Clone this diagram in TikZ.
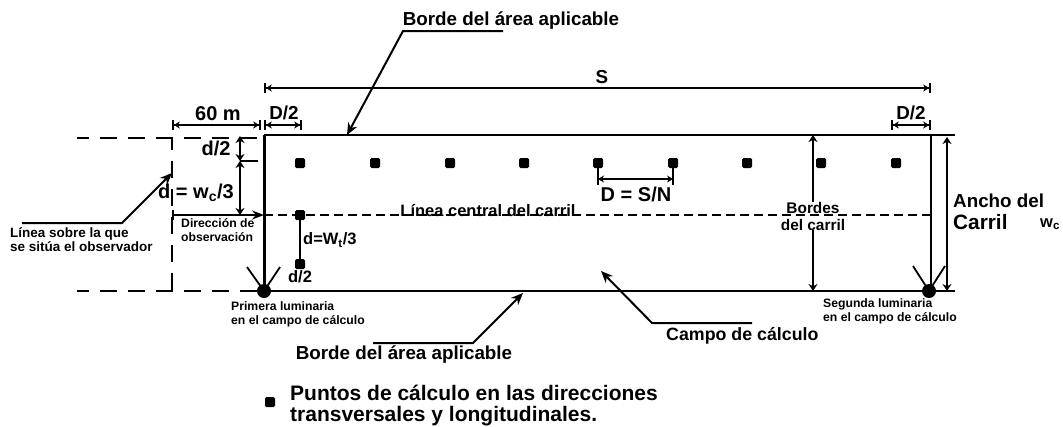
\documentclass[tikz,border=0pt]{standalone}
\usepackage{fontspec}
\setmainfont{Liberation Sans}[BoldFont={Liberation Sans Bold}]
\usetikzlibrary{positioning}
\usetikzlibrary{arrows.meta}

\tikzset{
	small/.style={font=\bfseries\fontsize{12.2}{14}\selectfont, align=left, inner sep=0pt},
	medium/.style={font=\bfseries\fontsize{16.5}{18}\selectfont, align=center, inner sep=0pt},
	large/.style={font=\bfseries\fontsize{18.8}{21}\selectfont, align=left, inner sep=0pt},
	edge/.style={line width=2.4pt},
	centerline/.style={line width=2pt, dash pattern=on 9pt off 5pt},
	obsline/.style={line width=2pt, dash pattern=on 17pt off 11pt, dash phase=5pt},
	leader/.style={line width=2pt, -{Stealth[length=12pt,width=10pt]}},
	dimline/.style={line width=1.8pt, {Bar[width=10pt]Stealth[length=6pt,width=7pt]}-{Stealth[length=6pt,width=7pt]Bar[width=10pt]}},
	vdim/.style={line width=2pt, {Stealth[length=7pt,width=9pt]}-{Stealth[length=7pt,width=9pt]}},
	calcpoint/.style={fill=black, rounded corners=1.5pt, minimum size=10pt, inner sep=0pt},
	lamp/.style={circle, fill=black, minimum size=14pt, inner sep=0pt}
}

\begin{document}
\begin{tikzpicture}[x=1pt, y=-1pt]
	\useasboundingbox (0,0) rectangle (1063,426);

	% campo de calculo
	\coordinate (tl) at (264,135);
	\coordinate (tr) at (931,135);
	\coordinate (bl) at (264,291);
	\coordinate (br) at (955,291);
	\draw[edge] (tl) -- (tr);
	\draw[edge] (bl) -- (br);
	\draw[line width=3pt] (tl) -- (bl);
	\draw[line width=1.8pt] (tr) -- (931,291);
	\draw[edge] (tr) -- (955,135);

	% lineas del observador
	\coordinate (obstop) at (172,138);
	\coordinate (obsbot) at (172,291);
	\draw[obsline] (77,138) -- (264,138);
	\draw[obsline] (77,291) -- (258,291);
	\draw[obsline] (obstop) -- (obsbot);

	% linea central
	\coordinate (cl) at (264,215);
	\coordinate (cr) at (931,215);
	\draw[centerline] (cl) -- (cr);
	\node[medium] (central) at (488,211) {Línea central del carril};

	% puntos de calculo
	\foreach \x [count=\i] in {300,375,450,524,598,673,747,821,896}
		\node[calcpoint] (p\i) at (\x,163) {};
	\node[calcpoint] (q1) at (300,215) {};
	\node[calcpoint] (q2) at (300,264) {};
	\node[calcpoint] (legend) at (270,402) {};

	% luminarias
	\node[lamp] (lamp1) at (264,291) {};
	\node[lamp] (lamp2) at (929,291) {};
	\draw[line width=1.8pt] (247,267) -- (lamp1.center) -- (280,267);
	\draw[line width=1.8pt] (913,266) -- (lamp2.center) -- (945,266);
	\node[small, anchor=north west] (lamp1text) at (231,301) {Primera luminaria\\en el campo de cálculo};
	\node[small, anchor=north west] (lamp2text) at (823,298) {Segunda luminaria\\en el campo de cálculo};

	% cotas superiores
	\node[large] (S) at (602,77) {S};
	\draw[dimline] (264,88) -- (931,88);
	\draw[dimline] (172,125) -- (261,125);
	\draw[dimline] (264,125) -- (302,125);
	\draw[dimline] (891,125) -- (931,125);
	\node[large, font=\bfseries\fontsize{20}{21}\selectfont] (m60) at (218,114) {60 m};
	\node[large] (D1) at (284,113) {D/2};
	\node[large] (D2) at (911,113) {D/2};

	% cota D
	\draw[line width=1.8pt] (p5) -- (598,185);
	\draw[line width=1.8pt] (p6) -- (673,185);
	\draw[line width=1.8pt, {Stealth[length=6pt,width=7pt]}-{Stealth[length=6pt,width=7pt]}] (598,179) -- (673,179);
	\node[large, font=\bfseries\fontsize{20}{21}\selectfont] (Dsn) at (636,194) {D = S/N};

	% cotas izquierda
	\draw[vdim] (240,136) -- (240,161);
	\draw[vdim] (240,161) -- (240,215);
	\draw[line width=1.8pt] (240,161) -- (258,161);
	\node[large, font=\bfseries\fontsize{20}{21}\selectfont] (d2a) at (216,148) {d/2};
	\node[large, anchor=west, font=\bfseries\fontsize{20}{21}\selectfont] (dwc) at (158,193) {d = w$_{\mathbf{c}}$/3};
	\draw[line width=1.8pt, {Bar[width=10pt]}-{Stealth[length=12pt,width=9pt]}] (172,215) -- (cl);
	\node[small, anchor=north west] (obs) at (181,218) {Dirección de\\observación};
	\draw[line width=2.4pt] (q1) -- (q2);
	\node[medium, anchor=west] (dwt) at (303,240) {d=W$_{\mathbf{t}}$/3};
	\node[medium] (d2b) at (300,277) {d/2};

	% linea del observador
	\node[small, anchor=north west, font=\bfseries\fontsize{13.5}{14}\selectfont] (obstext) at (10,227) {Línea sobre la que\\se sitúa el observador};
	\coordinate (obsa) at (22,223);
	\coordinate (obsb) at (122,223);
	\coordinate (obsc) at (172,173);
	\draw[leader] (obsa) -- (obsb) -- (obsc);

	% bordes
	\node[large] (borde1) at (511,21) {Borde del área aplicable};
	\coordinate (b1a) at (503,31);
	\coordinate (b1b) at (403,31);
	\coordinate (b1c) at (347,135);
	\draw[leader] (b1a) -- (b1b) -- (b1c);
	\node[large] (borde2) at (404,355) {Borde del área aplicable};
	\coordinate (b2a) at (373,343);
	\coordinate (b2b) at (473,343);
	\coordinate (b2c) at (523,293);
	\draw[leader] (b2a) -- (b2b) -- (b2c);

	% campo
	\node[large, anchor=west, font=\bfseries\fontsize{17.8}{21}\selectfont] (campo) at (666,336) {Campo de cálculo};
	\coordinate (c1a) at (752,323);
	\coordinate (c1b) at (652,323);
	\coordinate (c1c) at (601,271);
	\draw[leader] (c1a) -- (c1b) -- (c1c);

	% bordes del carril
	\node[medium, font=\bfseries\fontsize{15.4}{17}\selectfont] (bordes) at (813,216) {Bordes\\del carril};
	\draw[line width=2pt, -{Stealth[length=7pt,width=9pt]}] (bordes.north) -- (813,135);
	\draw[line width=2pt, -{Stealth[length=7pt,width=9pt]}] (bordes.south) -- (813,291);

	% ancho
	\draw[vdim] (947,137) -- (947,291);
	\node[large, anchor=west] (ancho) at (953,201) {Ancho del};
	\node[large, anchor=west, font=\bfseries\fontsize{20.8}{21}\selectfont] (carril) at (953,222) {Carril};
	\node[medium, anchor=west] (wc) at (1040,224) {w$_{\mathbf{c}}$};

	% leyenda
	\node[large, anchor=north west, font=\bfseries\fontsize{21}{21}\selectfont] (legendtext) at (290,385) {Puntos de cálculo en las direcciones\\transversales y longitudinales.};
\end{tikzpicture}
\end{document}
